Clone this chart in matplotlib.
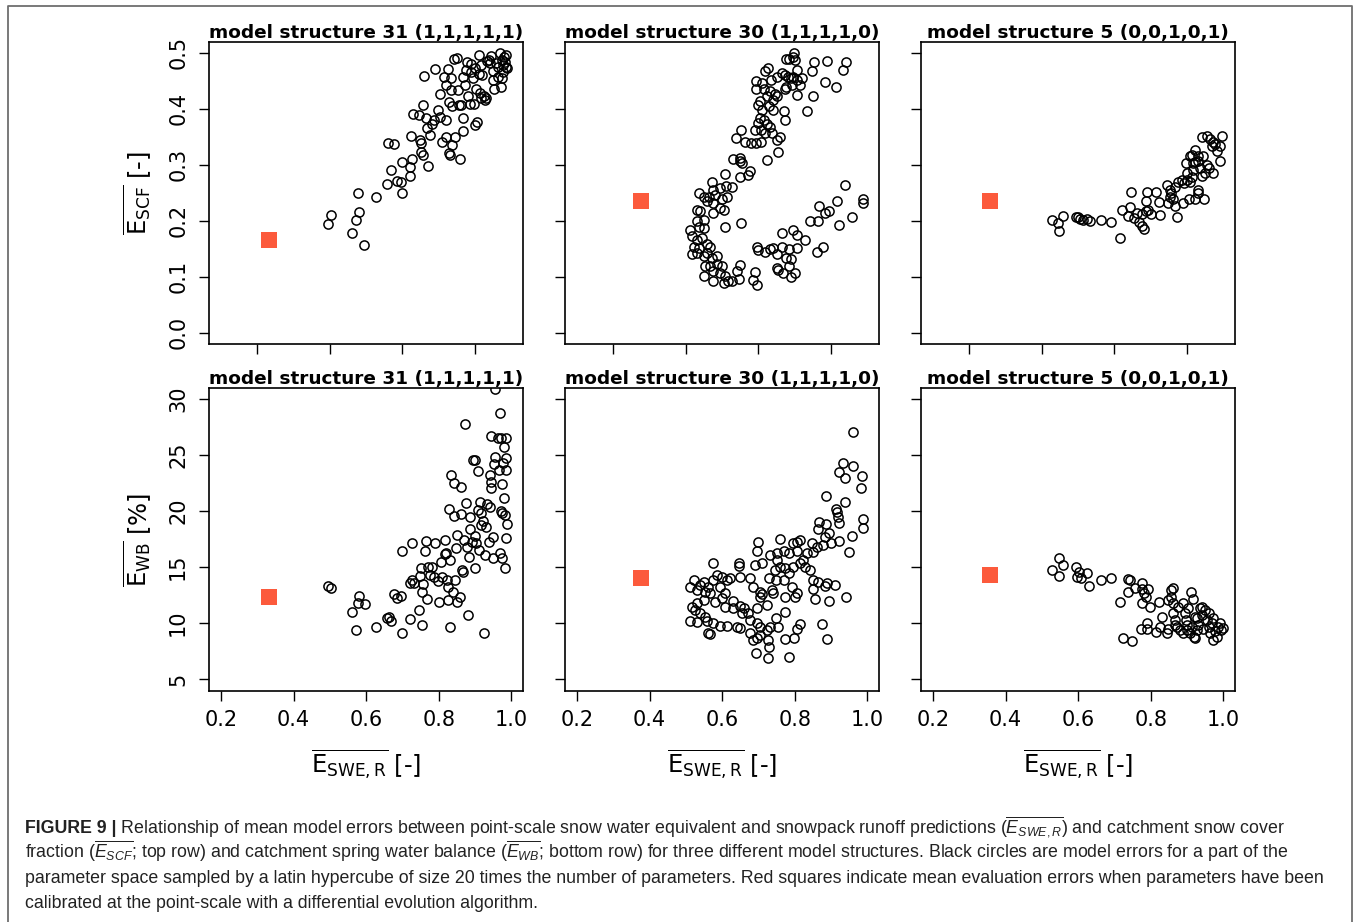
import matplotlib
matplotlib.use("Agg")
import matplotlib.pyplot as plt
from matplotlib.lines import Line2D

plt.rcParams['font.family'] = 'DejaVu Sans'
plt.rcParams['mathtext.fontset'] = 'custom'
plt.rcParams['mathtext.rm'] = 'Liberation Sans'
plt.rcParams['mathtext.it'] = 'Liberation Sans:italic'
plt.rcParams['mathtext.bf'] = 'Liberation Sans:bold'

# ---- model structure 31 (1,1,1,1,1) ----
scf31_x = [0.494, 0.504, 0.562, 0.571, 0.581, 0.578, 0.594, 0.626, 0.658, 0.668,
           0.661, 0.678, 0.686, 0.697, 0.699, 0.699, 0.720, 0.720, 0.726, 0.724,
           0.728, 0.746, 0.748, 0.750, 0.752, 0.756, 0.756, 0.759, 0.770, 0.766,
           0.768, 0.775, 0.780, 0.787, 0.789, 0.798, 0.804, 0.803, 0.808, 0.815,
           0.821, 0.821, 0.821, 0.826, 0.827, 0.828, 0.830, 0.833, 0.835, 0.837,
           0.837, 0.842, 0.849, 0.846, 0.852, 0.855, 0.858, 0.862, 0.867, 0.867,
           0.867, 0.873, 0.874, 0.878, 0.881, 0.885, 0.888, 0.890, 0.894, 0.897,
           0.899, 0.901, 0.903, 0.906, 0.910, 0.911, 0.913, 0.916, 0.917, 0.920,
           0.924, 0.927, 0.931, 0.934, 0.939, 0.942, 0.945, 0.948, 0.950, 0.952,
           0.957, 0.962, 0.963, 0.968, 0.971, 0.973, 0.975, 0.977, 0.980, 0.984,
           0.986, 0.988, 0.983, 0.977]
scf31_y = [0.194, 0.210, 0.179, 0.202, 0.215, 0.250, 0.157, 0.243, 0.265, 0.290,
           0.338, 0.337, 0.271, 0.269, 0.249, 0.305, 0.296, 0.280, 0.310, 0.352,
           0.391, 0.389, 0.344, 0.338, 0.322, 0.317, 0.406, 0.458, 0.297, 0.383,
           0.366, 0.353, 0.373, 0.379, 0.470, 0.398, 0.386, 0.426, 0.340, 0.456,
           0.442, 0.379, 0.350, 0.471, 0.412, 0.321, 0.318, 0.454, 0.433, 0.404,
           0.335, 0.488, 0.491, 0.350, 0.433, 0.407, 0.310, 0.407, 0.456, 0.383,
           0.361, 0.442, 0.469, 0.484, 0.422, 0.409, 0.480, 0.466, 0.454, 0.408,
           0.371, 0.472, 0.435, 0.377, 0.461, 0.496, 0.428, 0.419, 0.478, 0.460,
           0.422, 0.416, 0.419, 0.485, 0.487, 0.481, 0.494, 0.451, 0.468, 0.436,
           0.481, 0.457, 0.475, 0.499, 0.438, 0.487, 0.454, 0.466, 0.492, 0.475,
           0.496, 0.472, 0.484, 0.478]

wb31_x = [0.494, 0.504, 0.562, 0.571, 0.579, 0.578, 0.598, 0.626, 0.658, 0.663,
          0.668, 0.676, 0.686, 0.697, 0.699, 0.699, 0.720, 0.720, 0.726, 0.726,
          0.733, 0.746, 0.748, 0.750, 0.753, 0.755, 0.757, 0.761, 0.764, 0.768,
          0.771, 0.775, 0.782, 0.787, 0.789, 0.798, 0.801, 0.805, 0.808, 0.817,
          0.817, 0.821, 0.823, 0.826, 0.826, 0.828, 0.830, 0.832, 0.835, 0.838,
          0.841, 0.841, 0.846, 0.847, 0.849, 0.851, 0.858, 0.861, 0.862, 0.864,
          0.867, 0.870, 0.873, 0.874, 0.878, 0.881, 0.884, 0.885, 0.887, 0.892,
          0.894, 0.899, 0.901, 0.901, 0.903, 0.908, 0.908, 0.911, 0.913, 0.916,
          0.917, 0.922, 0.924, 0.928, 0.931, 0.934, 0.939, 0.940, 0.942, 0.945,
          0.945, 0.948, 0.950, 0.952, 0.954, 0.943, 0.954, 0.963, 0.968, 0.965,
          0.968, 0.971, 0.973, 0.974, 0.975, 0.977, 0.979, 0.980, 0.982, 0.983,
          0.984, 0.986, 0.986, 0.986, 0.988, 0.971]
wb31_y = [13.29, 13.15, 10.97, 9.43, 12.43, 11.78, 11.69, 9.70, 10.47, 10.59,
          10.20, 12.61, 12.28, 12.46, 16.47, 9.13, 10.35, 13.62, 17.19, 13.86,
          13.56, 11.18, 14.22, 14.90, 9.85, 12.79, 13.50, 16.41, 17.31, 12.13,
          15.05, 14.30, 14.99, 14.10, 17.13, 13.77, 11.90, 15.49, 14.16, 17.43,
          16.18, 16.30, 13.86, 12.07, 13.26, 20.16, 15.64, 9.70, 23.22, 12.82,
          19.57, 22.48, 13.86, 16.68, 17.87, 11.93, 12.31, 22.18, 19.74, 14.75,
          14.60, 17.43, 27.77, 20.75, 16.83, 10.74, 15.94, 19.51, 18.38, 17.28,
          24.56, 24.56, 17.78, 14.90, 17.13, 23.58, 20.10, 16.53, 20.84, 18.76,
          19.80, 19.15, 9.16, 16.09, 18.61, 20.61, 17.28, 20.40, 23.22, 22.63,
          22.03, 17.72, 15.79, 24.20, 24.80, 26.69, 30.90, 26.49, 28.78, 23.67,
          16.24, 20.04, 19.80, 15.79, 22.42, 24.32, 21.14, 25.75, 19.66, 14.90,
          24.71, 23.67, 26.55, 17.57, 18.82, 26.49]

# ---- model structure 30 (1,1,1,1,0) ----
scf30_x = [0.799, 0.794, 0.785, 0.776, 0.801, 0.854, 0.888, 0.940, 0.934, 0.884,
           0.913, 0.850, 0.833, 0.806, 0.847, 0.726, 0.719, 0.735, 0.752, 0.764,
           0.772, 0.780, 0.789, 0.796, 0.806, 0.819, 0.776, 0.792, 0.773, 0.813,
           0.806, 0.694, 0.709, 0.694, 0.715, 0.732, 0.746, 0.752, 0.741, 0.723,
           0.705, 0.700, 0.728, 0.741, 0.709, 0.769, 0.772, 0.705, 0.714, 0.700,
           0.723, 0.732, 0.707, 0.718, 0.691, 0.737, 0.758, 0.752, 0.755, 0.723,
           0.706, 0.694, 0.679, 0.663, 0.638, 0.652, 0.629, 0.650, 0.654, 0.648,
           0.677, 0.672, 0.650, 0.608,
           0.572, 0.576, 0.594, 0.611, 0.627, 0.536, 0.549, 0.565, 0.581, 0.599,
           0.613, 0.558, 0.576, 0.594, 0.606, 0.530, 0.539, 0.576, 0.608, 0.652,
           0.530, 0.549, 0.535, 0.551, 0.510, 0.517, 0.530, 0.544, 0.558, 0.567,
           0.521, 0.535, 0.517, 0.530, 0.549, 0.558, 0.572, 0.585, 0.553, 0.567,
           0.585, 0.599, 0.576, 0.594, 0.608, 0.549, 0.574, 0.604, 0.617, 0.627,
           0.645, 0.648, 0.640,
           0.686, 0.697, 0.691, 0.697, 0.700, 0.717, 0.732, 0.741, 0.750, 0.764,
           0.783, 0.806, 0.766, 0.796, 0.806, 0.828, 0.752, 0.755, 0.767, 0.789,
           0.776, 0.783, 0.790, 0.801, 0.879, 0.861, 0.842, 0.865, 0.883, 0.893,
           0.868, 0.916, 0.922, 0.957, 0.938, 0.989, 0.989]
scf30_y = [0.499, 0.492, 0.488, 0.489, 0.487, 0.484, 0.485, 0.483, 0.469, 0.447,
           0.439, 0.422, 0.395, 0.469, 0.468, 0.472, 0.467, 0.452, 0.456, 0.463,
           0.460, 0.457, 0.454, 0.457, 0.451, 0.454, 0.439, 0.442, 0.435, 0.442,
           0.425, 0.450, 0.445, 0.436, 0.435, 0.432, 0.426, 0.422, 0.416, 0.422,
           0.413, 0.407, 0.404, 0.398, 0.398, 0.395, 0.379, 0.383, 0.380, 0.374,
           0.373, 0.367, 0.362, 0.356, 0.362, 0.356, 0.350, 0.344, 0.322, 0.308,
           0.340, 0.338, 0.338, 0.340, 0.347, 0.362, 0.311, 0.312, 0.303, 0.307,
           0.288, 0.282, 0.278, 0.284,
           0.270, 0.255, 0.258, 0.262, 0.261, 0.249, 0.242, 0.243, 0.246, 0.239,
           0.242, 0.235, 0.232, 0.223, 0.219, 0.220, 0.217, 0.214, 0.189, 0.196,
           0.199, 0.202, 0.189, 0.187, 0.183, 0.172, 0.166, 0.169, 0.159, 0.154,
           0.154, 0.151, 0.140, 0.143, 0.137, 0.143, 0.134, 0.137, 0.119, 0.119,
           0.122, 0.119, 0.110, 0.107, 0.101, 0.102, 0.093, 0.089, 0.092, 0.092,
           0.096, 0.121, 0.110,
           0.095, 0.086, 0.108, 0.153, 0.147, 0.145, 0.150, 0.151, 0.140, 0.153,
           0.150, 0.151, 0.178, 0.183, 0.175, 0.165, 0.116, 0.112, 0.107, 0.131,
           0.134, 0.119, 0.099, 0.106, 0.154, 0.144, 0.199, 0.199, 0.214, 0.217,
           0.227, 0.235, 0.192, 0.207, 0.263, 0.239, 0.232]

wb30_x = [0.961, 0.934, 0.923, 0.939, 0.961, 0.985, 0.983, 0.885, 0.937, 0.914,
          0.916, 0.920, 0.923, 0.989, 0.989, 0.957, 0.949, 0.868, 0.886, 0.865,
          0.893, 0.883, 0.923, 0.900, 0.879, 0.861, 0.847, 0.851, 0.815, 0.806,
          0.796, 0.758, 0.698, 0.697, 0.732, 0.750, 0.769, 0.783, 0.806, 0.833,
          0.824, 0.709, 0.691, 0.645, 0.645, 0.576, 0.650, 0.750, 0.760, 0.746,
          0.773, 0.783, 0.796, 0.815, 0.828, 0.842, 0.851, 0.865, 0.888, 0.911,
          0.883, 0.851, 0.806, 0.801, 0.773, 0.792, 0.769, 0.749, 0.730, 0.737,
          0.741, 0.705, 0.709, 0.723, 0.705, 0.686, 0.677, 0.856, 0.895, 0.941,
          0.512, 0.521, 0.530, 0.539, 0.549, 0.553, 0.567, 0.562, 0.576, 0.585,
          0.599, 0.613, 0.622, 0.594, 0.608, 0.599, 0.631, 0.650, 0.659, 0.654,
          0.631, 0.608, 0.581, 0.549, 0.530, 0.517, 0.526, 0.539, 0.553, 0.530,
          0.512, 0.558, 0.576, 0.594, 0.613, 0.567, 0.562, 0.640, 0.650, 0.672,
          0.677, 0.695, 0.705, 0.705, 0.723, 0.725, 0.728, 0.695, 0.677, 0.686,
          0.694, 0.725, 0.783, 0.773, 0.798, 0.806, 0.813, 0.773, 0.748, 0.753,
          0.732, 0.874, 0.888, 0.695]
wb30_y = [27.09, 24.26, 23.52, 22.93, 24.05, 23.16, 22.03, 21.35, 20.78, 20.19,
          19.95, 19.51, 18.91, 19.30, 18.47, 17.81, 16.33, 19.00, 18.82, 18.38,
          18.08, 17.72, 17.34, 17.13, 16.98, 16.83, 17.13, 16.39, 17.43, 17.28,
          17.19, 17.51, 17.28, 16.47, 16.09, 16.30, 16.47, 16.24, 16.47, 16.24,
          15.64, 15.40, 15.20, 15.40, 15.11, 15.34, 14.10, 15.64, 15.05, 14.75,
          14.90, 14.45, 15.05, 15.34, 15.05, 14.75, 13.86, 13.71, 13.56, 13.41,
          13.32, 13.03, 12.67, 12.37, 12.37, 13.26, 13.86, 13.86, 14.01, 12.97,
          12.67, 12.82, 12.58, 11.63, 12.37, 13.26, 14.01, 12.13, 12.02, 12.37,
          13.26, 13.86, 12.97, 13.41, 13.71, 12.82, 12.67, 13.26, 13.86, 14.30,
          14.16, 13.86, 14.01, 13.26, 12.67, 12.22, 12.02, 11.54, 11.33, 10.89,
          11.33, 11.48, 11.93, 12.07, 11.78, 11.48, 11.18, 10.89, 10.59, 10.14,
          10.20, 10.20, 9.99, 9.79, 9.76, 9.04, 9.16, 9.70, 9.58, 10.89,
          10.29, 9.99, 9.70, 8.95, 9.40, 8.51, 7.91, 8.66, 9.10, 8.51,
          7.38, 6.93, 7.02, 8.57, 8.66, 9.46, 9.90, 11.03, 10.50, 9.64,
          9.70, 9.93, 8.57, 11.33]

# ---- model structure 5 (0,0,1,0,1) ----
scf5_x = [0.528, 0.545, 0.547, 0.559, 0.593, 0.600, 0.605, 0.612, 0.623, 0.632,
          0.662, 0.691, 0.715, 0.722, 0.743, 0.738, 0.754, 0.763, 0.777, 0.787,
          0.793, 0.768, 0.775, 0.782, 0.800, 0.825, 0.746, 0.789, 0.787, 0.814,
          0.823, 0.844, 0.853, 0.853, 0.848, 0.862, 0.867, 0.871, 0.857, 0.867,
          0.876, 0.885, 0.891, 0.899, 0.890, 0.904, 0.908, 0.913, 0.929, 0.931,
          0.947, 0.922, 0.897, 0.908, 0.901, 0.917, 0.922, 0.913, 0.923, 0.931,
          0.936, 0.940, 0.949, 0.954, 0.959, 0.972, 0.940, 0.954, 0.963, 0.972,
          0.968, 0.977, 0.982, 0.991, 0.997, 0.991, 0.931, 0.917, 0.945]
scf5_y = [0.202, 0.196, 0.182, 0.209, 0.207, 0.207, 0.203, 0.202, 0.203, 0.199,
          0.202, 0.198, 0.169, 0.220, 0.224, 0.208, 0.204, 0.213, 0.212, 0.217,
          0.219, 0.197, 0.191, 0.185, 0.212, 0.211, 0.252, 0.251, 0.236, 0.251,
          0.233, 0.263, 0.255, 0.243, 0.232, 0.238, 0.226, 0.207, 0.249, 0.261,
          0.270, 0.273, 0.267, 0.273, 0.232, 0.239, 0.270, 0.278, 0.255, 0.249,
          0.239, 0.239, 0.303, 0.315, 0.285, 0.291, 0.304, 0.318, 0.327, 0.306,
          0.294, 0.279, 0.285, 0.300, 0.294, 0.285, 0.349, 0.352, 0.346, 0.340,
          0.333, 0.337, 0.324, 0.333, 0.352, 0.306, 0.315, 0.303, 0.315]

wb5_x = [0.548, 0.528, 0.548, 0.559, 0.595, 0.603, 0.598, 0.609, 0.625, 0.630,
         0.662, 0.690, 0.715, 0.724, 0.747, 0.738, 0.743, 0.738, 0.756, 0.775,
         0.777, 0.782, 0.787, 0.793, 0.775, 0.798, 0.772, 0.789, 0.790, 0.814,
         0.823, 0.830, 0.825, 0.848, 0.848, 0.844, 0.857, 0.857, 0.860, 0.862,
         0.862, 0.867, 0.867, 0.876, 0.871, 0.880, 0.888, 0.894, 0.897, 0.899,
         0.901, 0.903, 0.910, 0.917, 0.908, 0.913, 0.922, 0.922, 0.926, 0.931,
         0.936, 0.940, 0.945, 0.949, 0.954, 0.959, 0.961, 0.963, 0.968, 0.972,
         0.977, 0.982, 0.986, 0.991, 0.994, 0.998, 0.972, 0.940, 0.926, 0.890,
         0.919]
wb5_y = [15.85, 14.75, 14.22, 15.20, 14.99, 14.60, 14.16, 14.07, 14.51, 13.32,
         13.86, 14.01, 11.87, 8.66, 8.42, 13.98, 13.86, 12.76, 13.17, 13.03,
         13.56, 12.73, 12.37, 13.09, 11.84, 11.42, 9.46, 9.99, 9.46, 9.19,
         11.93, 10.53, 9.70, 12.07, 9.46, 9.16, 12.97, 12.37, 13.12, 11.78,
         10.89, 10.29, 9.85, 11.48, 9.70, 9.40, 11.84, 10.89, 10.29, 9.85,
         9.40, 11.33, 12.82, 12.13, 9.10, 9.70, 8.66, 10.59, 10.44, 9.85,
         11.33, 10.74, 9.46, 11.18, 10.29, 10.89, 9.70, 9.10, 9.99, 8.51,
         9.34, 8.80, 9.70, 9.99, 9.40, 9.55, 10.44, 11.48, 9.40, 9.10,
         8.80]

# calibrated (red squares): structures 31, 30, 5
cal_swe = [0.333, 0.377, 0.356]
cal_scf = [0.166, 0.236, 0.236]
cal_wb = [12.37, 14.07, 14.30]

titles = ['model structure 31 (1,1,1,1,1)',
          'model structure 30 (1,1,1,1,0)',
          'model structure 5 (0,0,1,0,1)']

scf_ticks = [0.0, 0.1, 0.2, 0.3, 0.4, 0.5]
scf_tick_labels = ['0.0', '0.1', '0.2', '0.3', '0.4', '0.5']
wb_ticks = [5, 10, 15, 20, 25, 30]
swe_ticks_top = [0.3, 0.5, 0.7, 0.9]
swe_ticks = [0.2, 0.4, 0.6, 0.8, 1.0]
swe_tick_labels = ['0.2', '0.4', '0.6', '0.8', '1.0']

caption_lines = [
    r' Relationship of mean model errors between point-scale snow water equivalent and snowpack runoff predictions ($\overline{E_{SWE,R}}$) and catchment snow cover',
    r'fraction ($\overline{E_{SCF}}$; top row) and catchment spring water balance ($\overline{E_{WB}}$; bottom row) for three different model structures. Black circles are model errors for a part of the',
    'parameter space sampled by a latin hypercube of size 20 times the number of parameters. Red squares indicate mean evaluation errors when parameters have been',
    'calibrated at the point-scale with a differential evolution algorithm.',
]

RED = '#fc5a3c'
W, H = 1354, 922
LEFTS = [209, 565, 921]
AX_W = 314


def style_axes(ax):
    for sp in ax.spines.values():
        sp.set_linewidth(1.2)
    ax.tick_params(direction='out', length=7, width=1.0, labelsize=15,
                   colors='black')
    ax.tick_params(axis='x', pad=7)
    ax.tick_params(axis='y', pad=8)
    ax.set_xlim(0.167, 1.032)


def scatter_panel(ax, x, y, cx, cy):
    ax.plot(x, y, linestyle='none', marker='o', markersize=6.6,
            markerfacecolor='none', markeredgecolor='black',
            markeredgewidth=1.1, clip_on=True)
    ax.plot([cx], [cy], linestyle='none', marker='s', markersize=11.5,
            color=RED, markeredgewidth=0)


def plot_figure():
    fig = plt.figure(figsize=(W / 100, H / 100), dpi=100)

    top_data = [(scf31_x, scf31_y), (scf30_x, scf30_y), (scf5_x, scf5_y)]
    bot_data = [(wb31_x, wb31_y), (wb30_x, wb30_y), (wb5_x, wb5_y)]

    for i in range(3):
        # top row: snow cover fraction
        ax = fig.add_axes([LEFTS[i] / W, 1 - 344 / H, AX_W / W, 302 / H])
        style_axes(ax)
        scatter_panel(ax, top_data[i][0], top_data[i][1], cal_swe[i], cal_scf[i])
        ax.set_ylim(-0.02, 0.519)
        ax.set_yticks(scf_ticks)
        ax.set_xticks(swe_ticks_top)
        ax.set_xticklabels([])
        ax.set_title(titles[i], fontsize=13.3, fontweight='bold', pad=2)
        if i == 0:
            ax.set_yticklabels(scf_tick_labels)
            for lbl in ax.get_yticklabels():
                lbl.set_rotation(90)
                lbl.set_va('center')
            ax.set_ylabel(r'$\overline{\mathrm{E}_{\mathrm{SCF}}}$ [-]',
                          fontsize=17.5, va='center', math_fontfamily='dejavusans')
            ax.yaxis.set_label_coords(-0.229, 0.5)
        else:
            ax.set_yticklabels([])

        # bottom row: water balance
        ax = fig.add_axes([LEFTS[i] / W, 1 - 691 / H, AX_W / W, 303 / H])
        style_axes(ax)
        scatter_panel(ax, bot_data[i][0], bot_data[i][1], cal_swe[i], cal_wb[i])
        ax.set_ylim(3.95, 30.98)
        ax.set_yticks(wb_ticks)
        ax.set_xticks(swe_ticks)
        ax.set_xticklabels(swe_tick_labels)
        ax.set_title(titles[i], fontsize=13.3, fontweight='bold', pad=2)
        ax.set_xlabel(r'$\overline{\mathrm{E}_{\mathrm{SWE,R}}}$ [-]',
                      fontsize=17.5, va='center', math_fontfamily='dejavusans')
        ax.xaxis.set_label_coords(0.5, -0.244)
        if i == 0:
            for lbl in ax.get_yticklabels():
                lbl.set_rotation(90)
                lbl.set_va('center')
            ax.set_ylabel(r'$\overline{\mathrm{E}_{\mathrm{WB}}}$ [%]',
                          fontsize=17.5, va='center', math_fontfamily='dejavusans')
            ax.yaxis.set_label_coords(-0.229, 0.5)
        else:
            ax.set_yticklabels([])

    # frame around the figure panel
    fig.add_artist(Line2D([8 / W, 8 / W, 1352 / W, 1352 / W],
                          [0, 1 - 6 / H, 1 - 6 / H, 0],
                          transform=fig.transFigure, color='#6e6e6e', lw=1.3))

    # caption
    cap_kw = dict(fontsize=12.78, family='Liberation Sans', va='baseline',
                  math_fontfamily='custom', color='#222222')
    y0 = [833, 858, 883, 908]
    head = fig.text(25 / W, 1 - y0[0] / H, 'FIGURE 9 |', fontweight='bold', **cap_kw)
    r = fig.canvas.get_renderer()
    bb = head.get_window_extent(renderer=r)
    fig.text(bb.x1 / W, 1 - y0[0] / H, caption_lines[0], **cap_kw)
    for k in range(1, 4):
        fig.text(25 / W, 1 - y0[k] / H, caption_lines[k], **cap_kw)

    fig.savefig('out.png', dpi=100)
    plt.close(fig)


if __name__ == '__main__':
    plot_figure()
